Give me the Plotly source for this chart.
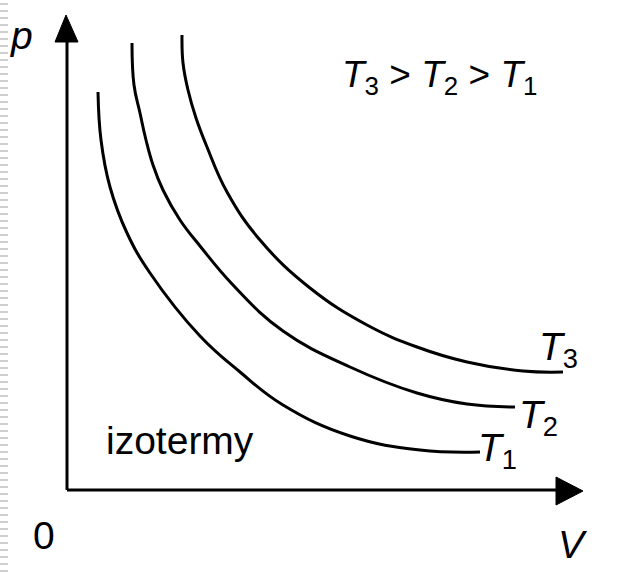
import plotly.graph_objects as go

# Isotherm data (V, p) in arbitrary units; origin at the axis corner
T1_V = [3.1, 3.4, 4.3, 6.0, 8.3, 13.3, 17.3, 21.6, 28.3, 35.3, 41.3]
T1_p = [39.8, 35.0, 30.3, 25.7, 21.7, 15.4, 11.8, 8.5, 5.4, 4.0, 3.8]
T2_V = [6.5, 6.7, 7.3, 7.9, 8.6, 9.6, 11.3, 13.3, 16.6, 21.6, 28.3, 35.0, 40.0, 44.8]
T2_p = [44.7, 40.5, 37.7, 35.0, 32.5, 30.0, 27.0, 24.4, 20.5, 15.9, 12.3, 9.7, 8.6, 8.3]
T3_V = [11.5, 11.6, 12.1, 12.9, 14.0, 16.0, 19.3, 24.3, 30.0, 35.0, 40.0, 45.6, 49.6]
T3_p = [45.5, 42.7, 40.0, 37.2, 34.3, 29.8, 25.0, 20.2, 16.5, 14.3, 12.8, 11.9, 11.8]

curve_labels = ["<i>T</i><sub>1</sub>", "<i>T</i><sub>2</sub>", "<i>T</i><sub>3</sub>"]

X_RANGE = [-6.7, 55.2]
Y_RANGE = [-8.2, 49.0]
V_AXIS_END = 48.9
P_AXIS_END = 44.8

FONT = "Liberation Sans, Arial, sans-serif"
FS = 39

fig = go.Figure()

for V, p in [(T1_V, T1_p), (T2_V, T2_p), (T3_V, T3_p)]:
    fig.add_trace(go.Scatter(x=V, y=p, mode="lines",
                             line=dict(color="black", width=3, shape="spline", smoothing=1.2),
                             hoverinfo="skip", showlegend=False))

# axes
fig.add_shape(type="line", x0=0, y0=0, x1=V_AXIS_END, y1=0, line=dict(color="black", width=3))
fig.add_shape(type="line", x0=0, y0=0, x1=0, y1=P_AXIS_END, line=dict(color="black", width=3))
# arrow heads
fig.add_shape(type="path", path=f"M {V_AXIS_END},1.3 L 51.6,-0.1 L {V_AXIS_END},-1.5 Z",
              fillcolor="black", line=dict(color="black", width=1))
fig.add_shape(type="path", path=f"M -1.2,{P_AXIS_END} L -0.1,47.5 L 1.1,{P_AXIS_END} Z",
              fillcolor="black", line=dict(color="black", width=1))

# left-edge ruler decoration
fig.add_shape(type="line", xref="paper", yref="paper", x0=4/619, x1=4/619, y0=0, y1=1,
              line=dict(color="#cfcfcf", width=8, dash="2px,5px"))

def ann(text, x, y, size=FS):
    fig.add_annotation(x=x, y=y, text=text, showarrow=False, xanchor="center", yanchor="middle",
                       font=dict(family=FONT, size=size, color="black"))

ann("<i>p</i>", -4.6, 45.5)
ann("<i>T</i><sub>3</sub> &gt; <i>T</i><sub>2</sub> &gt; <i>T</i><sub>1</sub>", 37.2, 41.3, 37)
ann("izotermy", 11.3, 5.0)
ann("0", -2.3, -4.5)
ann("<i>V</i>", 50.6, -5.4)
ann(curve_labels[2], 49.1, 14.1)
ann(curve_labels[1], 47.1, 7.3)
ann(curve_labels[0], 43.0, 4.0)

fig.update_xaxes(range=X_RANGE, visible=False, showgrid=False, zeroline=False, fixedrange=True)
fig.update_yaxes(range=Y_RANGE, visible=False, showgrid=False, zeroline=False, fixedrange=True)
fig.update_layout(width=619, height=572, margin=dict(l=0, r=0, t=0, b=0),
                  plot_bgcolor="white", paper_bgcolor="white", showlegend=False)

fig.write_html("out.html", config={"displayModeBar": False, "staticPlot": True},
               post_script="document.body.style.margin='0';document.body.style.overflow='hidden';")
